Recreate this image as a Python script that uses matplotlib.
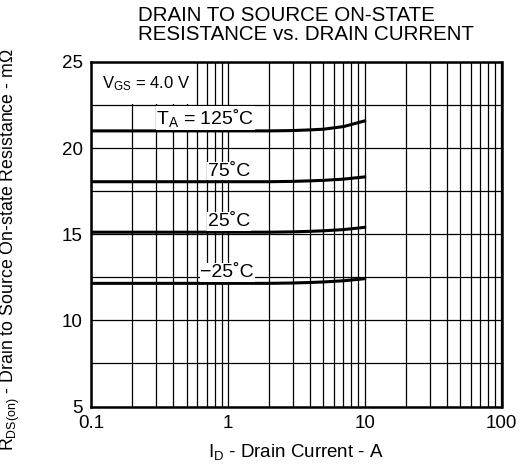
import matplotlib
matplotlib.use("Agg")
import matplotlib.pyplot as plt
from matplotlib.ticker import FixedLocator, NullFormatter
from matplotlib.patches import Rectangle

plt.rcParams['font.family'] = ['Liberation Sans', 'DejaVu Sans']
plt.rcParams['mathtext.fontset'] = 'custom'
plt.rcParams['mathtext.rm'] = 'Liberation Sans'
plt.rcParams['mathtext.it'] = 'Liberation Sans'

# Data
current = [0.1, 0.3, 1, 2, 3, 4, 5, 7, 10]
r_125 = [21.0, 21.0, 21.0, 21.0, 21.02, 21.06, 21.1, 21.25, 21.58]
r_75 = [18.05, 18.05, 18.05, 18.05, 18.07, 18.1, 18.13, 18.2, 18.33]
r_25 = [15.12, 15.12, 15.12, 15.12, 15.14, 15.17, 15.2, 15.27, 15.4]
r_m25 = [12.15, 12.15, 12.15, 12.15, 12.17, 12.2, 12.23, 12.3, 12.42]
curve_labels = [r'$\mathregular{T_A}$ = 125˚C', '75˚C', '25˚C', '−25˚C']
x_ticks = [0.1, 1, 10, 100]
x_ticklabels = ['0.1', '1', '10', '100']
y_ticks = [5, 10, 15, 20, 25]

W, H = 528, 466
L, R, T, B = 91, 501.5, 62, 406.5
fig = plt.figure(figsize=(W/100, H/100), dpi=100)
ax = fig.add_axes([L/W, 1-B/H, (R-L)/W, (B-T)/H])
ax.set_xscale('log')
ax.set_xlim(0.1, 100)
ax.set_ylim(5, 25)

# grid
minor_x = [m * 10**e for e in range(-1, 2) for m in range(2, 10)]
ax.xaxis.set_major_locator(FixedLocator(x_ticks))
ax.xaxis.set_minor_locator(FixedLocator(minor_x))
ax.xaxis.set_minor_formatter(NullFormatter())
ax.set_xticklabels(x_ticklabels)
ax.yaxis.set_major_locator(FixedLocator(y_ticks))
ax.yaxis.set_minor_locator(FixedLocator([7.5, 12.5, 17.5, 22.5]))
ax.grid(which='both', color='black', linewidth=0.9)
ax.tick_params(which='both', length=0, labelsize=13.5)
ax.tick_params(axis='x', pad=6)
ax.tick_params(axis='y', pad=6)
for s in ax.spines.values():
    s.set_linewidth(1.8)

# white area behind the V_GS note
ax.add_patch(Rectangle((0.1, 22.58), 0.46, 2.42, facecolor='white', edgecolor='none', zorder=1.8))

for r in (r_125, r_75, r_25, r_m25):
    ax.plot(current, r, color='black', linewidth=2.2, zorder=3)

bb = dict(facecolor='white', edgecolor='none', pad=0.5)
ax.text(0.30, r_125[0] + 0.12, curve_labels[0], ha='left', va='bottom', fontsize=14, bbox=bb, zorder=4)
ax.text(0.716, r_75[0] + 0.12, curve_labels[1], ha='left', va='bottom', fontsize=14, bbox=bb, zorder=4)
ax.text(0.716, r_25[0] + 0.12, curve_labels[2], ha='left', va='bottom', fontsize=14, bbox=bb, zorder=4)
ax.text(0.63, r_m25[0] + 0.12, curve_labels[3], ha='left', va='bottom', fontsize=14, bbox=bb, zorder=4)

ax.text(0.12, 23.75, r'$\mathregular{V_{GS}}$ = 4.0 V', ha='left', va='center', fontsize=12, zorder=4)

ax.set_xlabel(r'$\mathregular{I_D}$ - Drain Current - A', fontsize=13.5, va='top')
ax.xaxis.set_label_coords(0.5, (B - 442) / (B - T))
ax.set_ylabel(r'$\mathregular{R_{DS(on)}}$ - Drain to Source On-state Resistance - mΩ', fontsize=12.8)
ax.yaxis.set_label_coords((22 - L) / (R - L), (B - 250) / (B - T))

fig.text(138/W, 1-6/H, 'DRAIN TO SOURCE ON-STATE\nRESISTANCE vs. DRAIN CURRENT',
         ha='left', va='top', fontsize=14.8, linespacing=1.0)

fig.savefig('out.png', dpi=100)
